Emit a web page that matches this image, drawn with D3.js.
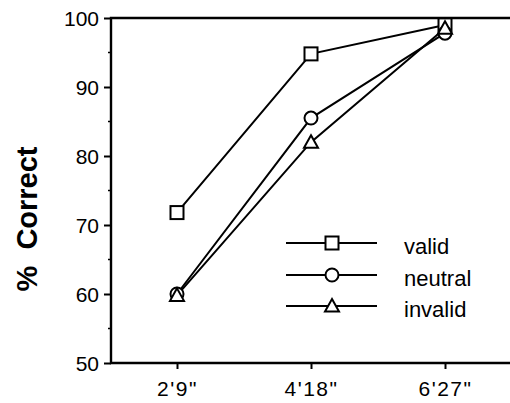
<!DOCTYPE html>
<meta charset="utf-8">
<script src="https://cdn.jsdelivr.net/npm/d3@7"></script>
<style>
  body { margin: 0; background: #fff; }
  text { font-family: "Liberation Sans", Arial, sans-serif; fill: #000; }
</style>
<body>
<script>

var width = 510
var height = 403

// data
var durations = ["2'9\"", "4'18\"", "6'27\""]
var valid = [71.8, 94.8, 99.0]
var neutral = [60.0, 85.5, 97.8]
var invalid = [59.8, 82.0, 98.5]
var yTicks = [50, 60, 70, 80, 90, 100]
var yMinor = [55, 65, 75, 85, 95]

var series = [
  {name: "valid", values: valid, shape: "square"},
  {name: "neutral", values: neutral, shape: "circle"},
  {name: "invalid", values: invalid, shape: "triangle"}
]

var x = d3.scalePoint().domain(durations).range([177, 445])
var y = d3.scaleLinear().domain([50, 100]).range([363, 18])

var left = 111, right = 510

var svg = d3.select("body").append("svg")
            .attr("width", width)
            .attr("height", height)

// axes
var yAxis = svg.append("g")
   .attr("transform", "translate(" + left + ",0)")
   .call(d3.axisLeft(y).tickValues(yTicks).tickSize(7).tickPadding(5))
yAxis.select(".domain").remove()
yAxis.selectAll("line").attr("stroke-width", 2)
yAxis.selectAll("text").style("font-size", "21px").attr("dy", "0.36em")

svg.append("g")
   .attr("transform", "translate(" + left + ",0)")
   .selectAll("line").data(yMinor).enter().append("line")
   .attr("x1", -3).attr("x2", 0)
   .attr("y1", d => y(d)).attr("y2", d => y(d))
   .attr("stroke", "#000").attr("stroke-width", 1.5)

var xAxis = svg.append("g")
   .attr("transform", "translate(0," + y(50) + ")")
   .call(d3.axisBottom(x).tickSize(6).tickPadding(12))
xAxis.select(".domain").remove()
xAxis.selectAll("line").attr("stroke-width", 2)
xAxis.selectAll("text").style("font-size", "21px").style("letter-spacing", "1.5px")

// frame: left, bottom, top
svg.append("path")
   .attr("d", "M" + right + "," + y(100) + "H" + left + "V" + y(50) + "H" + right)
   .attr("fill", "none").attr("stroke", "#000").attr("stroke-width", 2.4)

svg.append("text")
   .attr("transform", "translate(37,219) rotate(-90)")
   .style("text-anchor", "middle")
   .style("font-size", "29px")
   .style("font-weight", "bold")
   .attr("xml:space", "preserve")
   .text("%  Correct")

function marker(g, shape) {
  if (shape == "square") {
    g.append("rect").attr("x", -6.5).attr("y", -6.5).attr("width", 13).attr("height", 13)
  } else if (shape == "circle") {
    g.append("circle").attr("r", 6.5)
  } else {
    g.append("path").attr("d", "M0,-7L7,5.5L-7,5.5Z")
  }
  g.selectAll("*").attr("fill", "#fff").attr("stroke", "#000").attr("stroke-width", 2)
}

var line = d3.line().x((d, i) => x(durations[i])).y(d => y(d))

series.forEach(function(s) {
  svg.append("path")
     .attr("d", line(s.values))
     .attr("fill", "none").attr("stroke", "#000").attr("stroke-width", 2)
})
series.forEach(function(s) {
  s.values.forEach(function(v, i) {
    var g = svg.append("g").attr("transform", "translate(" + x(durations[i]) + "," + y(v) + ")")
    marker(g, s.shape)
  })
})

// legend
var legendY = [243, 275, 306]
var legend = svg.append("g")
series.forEach(function(s, i) {
  var ly = legendY[i]
  legend.append("line")
     .attr("x1", 286).attr("x2", 377).attr("y1", ly).attr("y2", ly)
     .attr("stroke", "#000").attr("stroke-width", 2)
  marker(legend.append("g").attr("transform", "translate(332," + ly + ")"), s.shape)
  legend.append("text")
     .attr("x", 404).attr("y", ly + 11)
     .style("font-size", "22px")
     .text(s.name)
})

</script>
</body>
